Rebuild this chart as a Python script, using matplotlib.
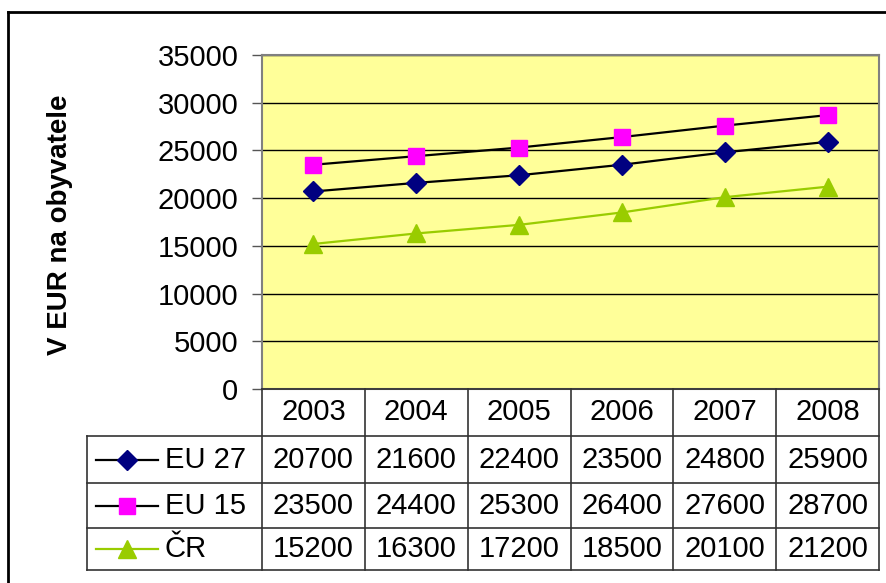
import matplotlib
matplotlib.use("Agg")
import matplotlib.pyplot as plt
from matplotlib.lines import Line2D

plt.rcParams['font.family'] = ['Liberation Sans', 'DejaVu Sans']

years = ["2003", "2004", "2005", "2006", "2007", "2008"]
series_names = ["EU 27", "EU 15", "ČR"]
eu27 = [20700, 21600, 22400, 23500, 24800, 25900]
eu15 = [23500, 24400, 25300, 26400, 27600, 28700]
cr = [15200, 16300, 17200, 18500, 20100, 21200]
yticks = [0, 5000, 10000, 15000, 20000, 25000, 30000, 35000]

W, H = 886, 583
fig = plt.figure(figsize=(W / 100, H / 100), dpi=100)

def fx(px):
    return px / W

def fy(py):
    return 1 - py / H

FS = 21
L, R, T, B = 262, 879, 55, 389
ax = fig.add_axes([fx(L), fy(B), fx(R - L), (B - T) / H])
ax.set_facecolor('#FFFF99')
x = list(range(len(years)))
line_colors = ['black', 'black', '#99CC00']
markers = [
    dict(marker='D', mfc='#000080', mec='#000080', ms=10.5),
    dict(marker='s', mfc='#FF00FF', mec='#FF00FF', ms=11),
    dict(marker='^', mfc='#99CC00', mec='#99CC00', ms=13),
]
for vals, lcol, mk in zip([eu27, eu15, cr], line_colors, markers):
    ax.plot(x, vals, lw=1.6, color=lcol, zorder=3, **mk)

ax.set_xlim(-0.5, len(years) - 0.5)
ax.set_ylim(0, 35000)
ax.set_yticks(yticks)
ax.set_yticklabels([str(v) for v in yticks], fontsize=FS)
ax.set_xticks([])
ax.yaxis.grid(True, color='black', lw=1.0)
ax.set_axisbelow(True)
ax.tick_params(axis='y', length=7, width=1.0, color='#555555', pad=10)
for s in ax.spines.values():
    s.set_color('#808080')
    s.set_linewidth(1.5)

fig.text(fx(60), fy(225), "V EUR na obyvatele", rotation=90, fontsize=20,
         fontweight='bold', ha='center', va='center')

# Figure outer border (top and left only visible)
fig.add_artist(Line2D([fx(8), 1], [fy(12), fy(12)], color='black', lw=2.0))
fig.add_artist(Line2D([fx(8), fx(8)], [fy(12), 0], color='black', lw=2.0))

# Data table
lc = '#333333'
colw = (R - L) / len(years)
row_y = [389, 436, 483, 528, 570]
for i in range(len(years) + 1):
    xx = L + i * colw
    fig.add_artist(Line2D([fx(xx), fx(xx)], [fy(389), fy(570)], color=lc, lw=1.2))
fig.add_artist(Line2D([fx(87), fx(87)], [fy(436), fy(570)], color=lc, lw=1.2))
fig.add_artist(Line2D([fx(L), fx(R)], [fy(389), fy(389)], color=lc, lw=1.2))
for yy in row_y[1:]:
    fig.add_artist(Line2D([fx(87), fx(R)], [fy(yy), fy(yy)], color=lc, lw=1.2))

for i, yr in enumerate(years):
    fig.text(fx(L + (i + 0.5) * colw), fy((row_y[0] + row_y[1]) / 2), yr,
             fontsize=FS, ha='center', va='center')

for r, (name, vals, lcol, mk) in enumerate(zip(series_names, [eu27, eu15, cr],
                                                 line_colors, markers)):
    yc = (row_y[r + 1] + row_y[r + 2]) / 2
    fig.add_artist(Line2D([fx(96), fx(158)], [fy(yc), fy(yc)], lw=1.6, color=lcol))
    fig.add_artist(Line2D([fx(127)], [fy(yc)], lw=0, **mk))
    fig.text(fx(165), fy(yc), name, fontsize=FS, ha='left', va='center')
    for i, v in enumerate(vals):
        fig.text(fx(L + (i + 0.5) * colw), fy(yc), str(v), fontsize=FS,
                 ha='center', va='center')

fig.savefig("out.png", dpi=100, facecolor='white')
